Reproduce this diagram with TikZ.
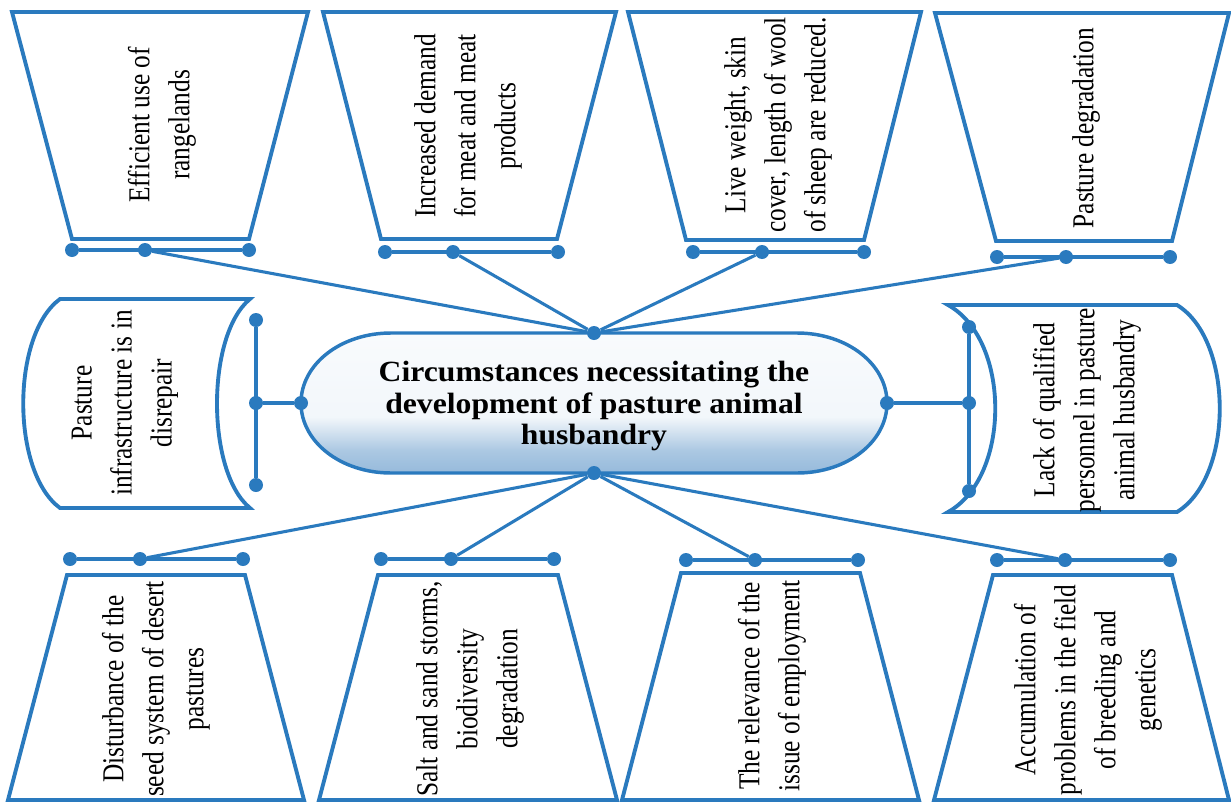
\documentclass[tikz,border=0pt]{standalone}
\usepackage{fontspec}
\setmainfont{Liberation Serif}
\usetikzlibrary{positioning}
\definecolor{mapblue}{RGB}{42,122,190}
\definecolor{shadeblue}{RGB}{150,186,219}
\pgfdeclareverticalshading{centreshade}{100bp}{color(0bp)=(shadeblue); color(25bp)=(shadeblue); color(33bp)=(shadeblue!80!white); color(45bp)=(shadeblue!12!white); color(75bp)=(shadeblue!6!white); color(100bp)=(white)}

\begin{document}
\begin{tikzpicture}[x=0.75pt, y=-0.75pt,
boxline/.style = {draw=mapblue, line width=2.9pt, fill=white},
barline/.style = {draw=mapblue, line width=2.8pt},
link/.style = {draw=mapblue, line width=2.3pt},
dot/.style = {circle, fill=mapblue, inner sep=0pt, minimum size=10.5pt},
boxtext/.style = {xscale=1.2, rotate=90, align=center, font=\fontsize{19}{25}\selectfont},
centretext/.style = {xscale=1.08, align=center, font=\bfseries\fontsize{22}{23.5}\selectfont}
]
\useasboundingbox (0,0) rectangle (1231,803);

% upper boxes
\draw[boxline] (12,12) -- (308,12) -- (249,239) -- (72,239) -- cycle;
\draw[boxline] (323,12) -- (616,12) -- (557,239) -- (381,239) -- cycle;
\draw[boxline] (628,12) -- (921,12) -- (864,240) -- (686,240) -- cycle;
\draw[boxline] (935,13) -- (1229,13) -- (1172,241) -- (996,241) -- cycle;
% lower boxes
\draw[boxline] (67,575) -- (245,575) -- (304,800) -- (8,800) -- cycle;
\draw[boxline] (378,575) -- (558,575) -- (617,800) -- (319,800) -- cycle;
\draw[boxline] (681,573) -- (860,573) -- (919,800) -- (622,800) -- cycle;
\draw[boxline] (993,575) -- (1172,575) -- (1229,800) -- (934,800) -- cycle;
% side boxes
\draw[boxline] (60,299) -- (250,299) .. controls (206,335) and (206,472) .. (250,508)
  -- (60,508) .. controls (11,472) and (11,335) .. (60,299) -- cycle;
\draw[boxline] (948,305) -- (1177,305) .. controls (1234,340) and (1234,477) .. (1177,512)
  -- (948,512) .. controls (1011,477) and (1011,340) .. (948,305) -- cycle;
% centre
\draw[draw=mapblue, line width=2.6pt, shading=centreshade]
  (391,333) -- (797,333) .. controls (847,333) and (887,364) .. (887,403)
  .. controls (887,442) and (847,473) .. (797,473) -- (391,473)
  .. controls (341,473) and (301,442) .. (301,403)
  .. controls (301,364) and (341,333) .. (391,333) -- cycle;
\node[centretext] (centre) at (594,406) {Circumstances necessitating the\\development of pasture animal\\husbandry};

\node[dot] (cn) at (594,333) {};
\node[dot] (cs) at (594,473) {};
\node[dot] (cw) at (301,403) {};
\node[dot] (ce) at (887,403) {};

\node[dot] (t1l) at (72,250) {};  \node[dot] (t1m) at (145,250) {};  \node[dot] (t1r) at (249,250) {};
\node[dot] (t2l) at (385,252) {}; \node[dot] (t2m) at (453,252) {};  \node[dot] (t2r) at (558,252) {};
\node[dot] (t3l) at (693,252) {}; \node[dot] (t3m) at (762,252) {};  \node[dot] (t3r) at (864,252) {};
\node[dot] (t4l) at (997,257) {}; \node[dot] (t4m) at (1066,257) {}; \node[dot] (t4r) at (1170,257) {};
\node[dot] (b1l) at (70,559) {};  \node[dot] (b1m) at (140,559) {};  \node[dot] (b1r) at (243,559) {};
\node[dot] (b2l) at (381,559) {}; \node[dot] (b2m) at (451,559) {};  \node[dot] (b2r) at (554,559) {};
\node[dot] (b3l) at (686,560) {}; \node[dot] (b3m) at (755,560) {};  \node[dot] (b3r) at (858,560) {};
\node[dot] (b4l) at (997,560) {}; \node[dot] (b4m) at (1065,560) {}; \node[dot] (b4r) at (1170,560) {};
\node[dot] (lt) at (256,320) {}; \node[dot] (lm) at (256,403) {}; \node[dot] (lb) at (256,485) {};
\node[dot] (rt) at (969,327) {}; \node[dot] (rm) at (969,403) {}; \node[dot] (rb) at (969,491) {};

\draw[barline] (t1l) -- (t1r);
\draw[barline] (t2l) -- (t2r);
\draw[barline] (t3l) -- (t3r);
\draw[barline] (t4l) -- (t4r);
\draw[barline] (b1l) -- (b1r);
\draw[barline] (b2l) -- (b2r);
\draw[barline] (b3l) -- (b3r);
\draw[barline] (b4l) -- (b4r);
\draw[barline] (lt) -- (lb);
\draw[barline] (rt) -- (rb);
\draw[barline] (lm) -- (cw);
\draw[barline] (rm) -- (ce);

\draw[link] (cn) -- (t1m);
\draw[link] (cn) -- (t2m);
\draw[link] (cn) -- (t3m);
\draw[link] (cn) -- (t4m);
\draw[link] (cs) -- (b1m);
\draw[link] (cs) -- (b2m);
\draw[link] (cs) -- (b3m);
\draw[link] (cs) -- (b4m);

\node[boxtext] (t1text) at (162,125) {Efficient use of\\rangelands};
\node[boxtext] (t2text) at (468,126) {Increased demand\\for meat and meat\\products};
\node[boxtext] (t3text) at (778,125) {Live weight, skin\\cover, length of wool\\of sheep are reduced.};
\node[boxtext] (t4text) at (1086,128) {Pasture degradation};
\node[boxtext] (ltext) at (125,403) {Pasture\\infrastructure is in\\disrepair};
\node[boxtext] (rtext) at (1087,410) {Lack of qualified\\personnel in pasture\\animal husbandry};
\node[boxtext] (b1text) at (156,689) {Disturbance of the\\seed system of desert\\pastures};
\node[boxtext] (b2text) at (470,689) {Salt and sand storms,\\biodiversity\\degradation};
\node[boxtext] (b3text) at (772,686) {The relevance of the\\issue of employment};
\node[boxtext] (b4text) at (1088,690) {Accumulation of\\problems in the field\\of breeding and\\genetics};
\end{tikzpicture}
\end{document}
